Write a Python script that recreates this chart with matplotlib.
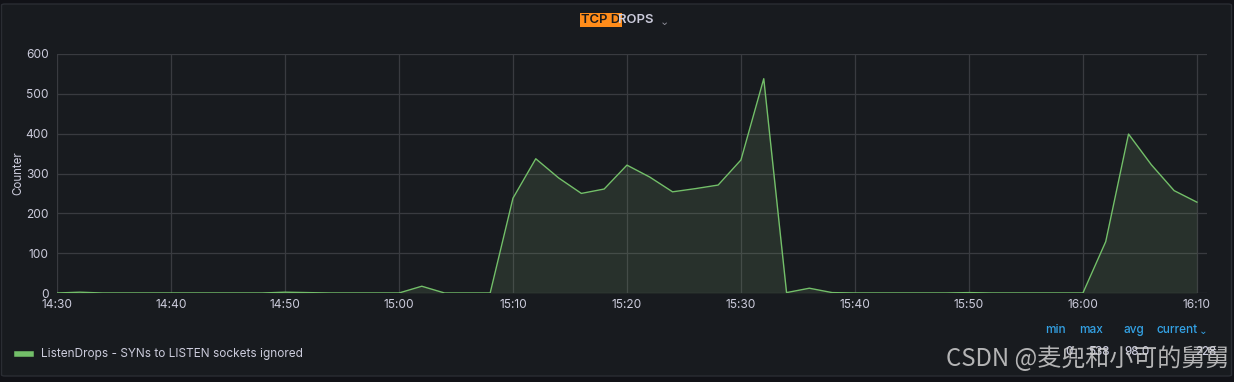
import matplotlib
matplotlib.use("Agg")
import matplotlib.pyplot as plt
import matplotlib.dates as mdates
from matplotlib.patches import FancyBboxPatch
import pandas as pd

# ---- data ----
times = pd.date_range("2023-01-01 14:30", "2023-01-01 16:10", freq="2min")
values = [
    0, 2, 0, 0, 0, 0, 0, 0, 0, 0,                      # 14:30 - 14:48
    2, 1, 0, 0, 0, 0, 17, 0, 0, 0,                     # 14:50 - 15:08
    238, 337, 289, 250, 261, 321, 291, 254, 262, 271,  # 15:10 - 15:28
    334, 538, 1, 12, 1, 0, 0, 0, 0, 0,                 # 15:30 - 15:48
    1, 0, 0, 0, 0, 0, 129, 399, 322, 257,              # 15:50 - 16:08
    228,                                               # 16:10
]
series_name = "ListenDrops - SYNs to LISTEN sockets ignored"
title_hl = "TCP D"
title_rest = "ROPS"
ylabel = "Counter"
yticks = [0, 100, 200, 300, 400, 500, 600]
legend_headers = ["min", "max", "avg", "current"]
legend_values = ["0", "538", "98.0", "228"]
watermark = "CSDN @麦兜和小可的舅舅"

# ---- style ----
PAGE = "#111217"
PANEL = "#181b1f"
BORDER = "#2a2d33"
TEXT = "#ccccdc"
GRID = "#393b40"
LINE = "#73bf69"
BLUE = "#33a2e5"
FONT = ["Inter", "DejaVu Sans"]
plt.rcParams["font.family"] = FONT

W, H = 1234, 382
fig = plt.figure(figsize=(W / 100, H / 100), dpi=100)
fig.patch.set_facecolor(PAGE)

# panel background
panel = FancyBboxPatch((1.5 / W, 6 / H), (1230 / W), (372 / H),
                       boxstyle="round,pad=0,rounding_size=0.003",
                       transform=fig.transFigure, facecolor=PANEL,
                       edgecolor=BORDER, linewidth=1, zorder=-10)
fig.add_artist(panel)

ax_left, ax_right = 57 / W, 1207 / W
ax_top, ax_bot = 1 - 54 / H, 1 - 293 / H
ax = fig.add_axes([ax_left, ax_bot, ax_right - ax_left, ax_top - ax_bot])
ax.set_facecolor(PANEL)
ax.set_zorder(1)

t = mdates.date2num(times.to_pydatetime())
ax.plot(t, values, color=LINE, linewidth=1.0, zorder=3)
ax.fill_between(t, values, 0, color="#8ab87f", alpha=0.14, linewidth=0, zorder=2)

xmin = mdates.date2num(pd.Timestamp("2023-01-01 14:30").to_pydatetime())
xmax = mdates.date2num(pd.Timestamp("2023-01-01 16:10:53").to_pydatetime())
ax.set_xlim(xmin, xmax)
ax.set_ylim(0, 600)
ax.set_yticks(yticks)
ax.xaxis.set_major_locator(mdates.MinuteLocator(byminute=[0, 10, 20, 30, 40, 50]))
ax.xaxis.set_major_formatter(mdates.DateFormatter("%H:%M"))

ax.grid(True, color=GRID, linewidth=0.9, zorder=1)
for s in ax.spines.values():
    s.set_visible(False)
ax.tick_params(axis="both", length=0, colors=TEXT, labelsize=8.6)
ax.tick_params(axis="x", pad=4)
ax.tick_params(axis="y", pad=6)
ax.set_ylabel(ylabel, color=TEXT, fontsize=8.3)
ax.yaxis.set_label_coords((24 - 57) / 1150, 0.5)

# title
fig.text(581 / W, 1 - 20 / H, title_hl, color="#1a1a1a", fontsize=9.4,
         fontweight="semibold", ha="left", va="center",
         bbox=dict(facecolor="#ff8c1a", edgecolor="none", pad=1.0))
fig.text(618 / W, 1 - 20 / H, title_rest, color=TEXT, fontsize=9.4,
         fontweight="semibold", ha="left", va="center")
fig.text(664 / W, 1 - 22 / H, "⌄", color="#8e8e99", fontsize=8,
         ha="center", va="center", family=["DejaVu Sans"])

# legend
fig.add_artist(plt.Line2D([17 / W, 31 / W], [1 - 354 / H, 1 - 354 / H],
                          color=LINE, linewidth=4, transform=fig.transFigure))
fig.text(41 / W, 1 - 354 / H, series_name, color=TEXT, fontsize=8.5,
         ha="left", va="center")

header_x = [1055, 1091, 1134, 1177]
for hx, h in zip(header_x, legend_headers):
    fig.text(hx / W, 1 - 330 / H, h, color=BLUE, fontsize=8.5,
             fontweight="medium", ha="center", va="center")
fig.text(1203 / W, 1 - 331 / H, "⌄", color=BLUE, fontsize=7.5,
         ha="center", va="center", family=["DejaVu Sans"])
value_right = [1073, 1110, 1150, 1216]
for vx, v in zip(value_right, legend_values):
    fig.text(vx / W, 1 - 352 / H, v, color=TEXT, fontsize=8.3,
             fontweight="medium", ha="right", va="center")

# watermark
fig.text(1229 / W, 1 - 359 / H, watermark, color="#d0d0d0", alpha=0.85,
         fontsize=17.3, ha="right", va="center",
         family=["Noto Sans CJK SC", "DejaVu Sans"])

fig.savefig("out.png", dpi=100, facecolor=PAGE)
